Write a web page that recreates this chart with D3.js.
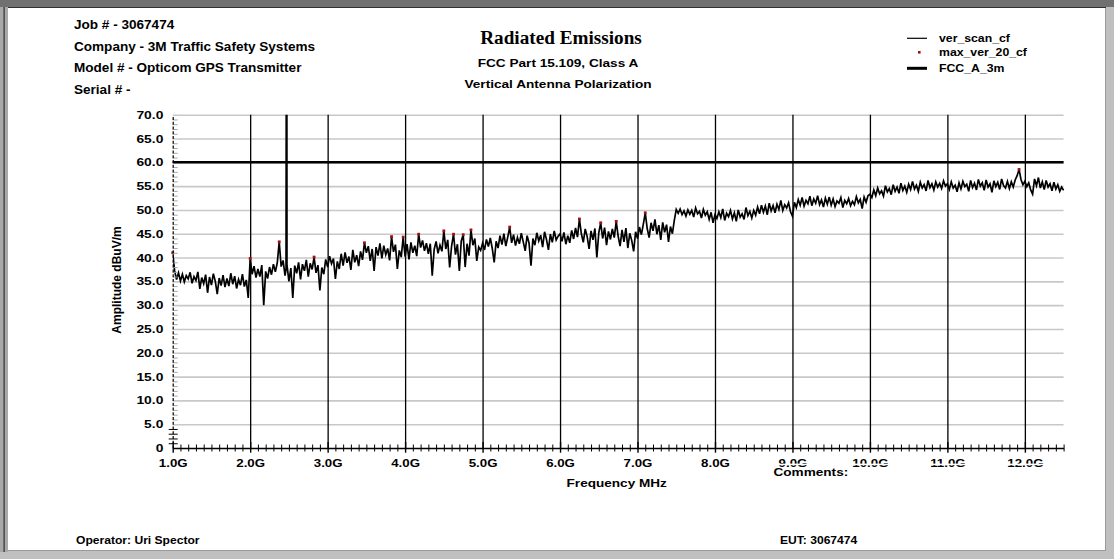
<!DOCTYPE html>
<html><head><meta charset="utf-8">
<script src="https://cdn.jsdelivr.net/npm/d3@7"></script>
<style>body{margin:0;background:#fff}svg{display:block}</style>
</head><body><svg id="c" width="1114" height="559"></svg>
<script>
// ---------- data ----------
const headerLines = ["Job # - 3067474", "Company - 3M Traffic Safety Systems", "Model # - Opticom GPS Transmitter", "Serial # -"];
const titleText = "Radiated Emissions";
const subtitleLines = ["FCC Part 15.109, Class A", "Vertical Antenna Polarization"];
const legendNames = ["ver_scan_cf", "max_ver_20_cf", "FCC_A_3m"];
const xLabel = "Frequency MHz";
const yLabel = "Amplitude dBuV/m";
const commentsText = "Comments:";
const operatorText = "Operator: Uri Spector";
const eutText = "EUT: 3067474";

const xTickMHz = [1000,2000,3000,4000,5000,6000,7000,8000,9000,10000,11000,12000];
const xTickLabels = ["1.0G","2.0G","3.0G","4.0G","5.0G","6.0G","7.0G","8.0G","9.0G","10.0G","11.0G","12.0G"];
const yTickValues = [0,5,10,15,20,25,30,35,40,45,50,55,60,65,70];
const yTickLabels = ["0","5.0","10.0","15.0","20.0","25.0","30.0","35.0","40.0","45.0","50.0","55.0","60.0","65.0","70.0"];

// ver_scan_cf: sampled every 25 MHz from 1000 MHz to 12500 MHz (dBuV/m)
const scanStartMHz = 1000, scanStepMHz = 25;
const scanValues = [
// 1.0 - 1.975 GHz
41.0,37.2,35.4,36.8,35.1,36.5,34.9,36.2,35.5,36.9,34.6,36.0,35.2,37.0,33.4,35.8,34.5,36.4,32.6,35.9,
34.2,36.6,35.0,32.3,35.7,34.1,36.3,33.8,35.6,34.0,36.7,34.4,36.1,33.5,35.4,34.2,36.5,33.9,35.3,31.5,
// 2.0 - 2.975 GHz
39.8,36.5,38.2,35.8,37.6,36.0,38.4,30.0,37.1,35.6,38.0,36.4,38.6,37.0,38.9,43.3,38.1,39.4,36.2,38.5,
35.0,37.8,31.5,38.3,36.7,39.0,35.4,38.6,37.2,39.5,36.0,38.8,37.5,40.1,36.8,38.4,33.1,37.9,36.5,39.6,
// 3.0 - 3.975 GHz
38.0,40.3,38.7,39.8,35.5,39.2,37.6,40.8,38.3,41.1,38.9,40.2,37.4,41.6,39.0,40.5,38.2,41.3,39.5,43.1,
41.0,42.4,39.3,41.8,37.2,42.2,40.4,43.0,39.8,42.5,40.6,41.9,39.4,44.4,41.2,42.7,37.6,41.5,40.1,44.3,
// 4.0 - 4.975 GHz
40.2,42.8,39.6,43.2,41.0,42.5,40.3,44.9,42.1,43.6,41.4,43.0,40.8,42.9,36.2,41.7,43.4,40.9,42.6,41.3,
45.6,41.8,43.7,37.9,42.4,44.9,40.6,42.8,37.2,43.5,44.8,38.0,42.9,40.4,45.8,42.6,44.0,39.3,42.2,41.5,
// 5.0 - 5.975 GHz
43.0,41.6,43.8,42.3,44.1,41.9,39.0,43.4,42.0,44.6,42.7,45.0,42.4,44.3,46.4,43.1,44.8,42.5,44.2,42.9,
45.1,43.3,41.4,44.6,43.0,38.3,44.0,42.6,45.2,43.5,44.7,42.2,45.4,43.8,41.6,44.9,43.2,45.6,43.7,44.5,
// 6.0 - 6.975 GHz
45.0,43.4,45.3,42.8,44.6,43.1,45.7,43.9,46.2,44.3,48.1,45.0,43.2,46.0,44.4,41.8,45.6,43.7,46.1,40.0,
45.2,47.3,44.0,46.3,42.6,45.5,43.8,46.0,44.2,47.6,44.5,42.4,45.8,43.3,46.2,42.0,45.1,43.6,41.3,45.4,
// 7.0 - 7.975 GHz
44.0,46.4,44.8,47.0,49.4,46.1,44.2,47.3,45.6,48.0,44.9,46.8,43.7,47.4,45.3,46.9,43.3,46.5,45.0,47.8,
50.1,49.3,50.2,49.0,49.8,48.7,50.0,49.1,49.9,48.5,50.4,49.2,49.7,48.3,50.1,48.9,49.6,48.0,49.5,47.3,
// 8.0 - 8.975 GHz
49.0,48.2,49.6,48.4,50.2,47.8,49.3,48.6,49.9,48.1,49.4,47.6,50.0,48.5,49.2,48.0,50.5,48.8,49.7,48.3,
49.9,48.9,50.6,49.2,51.0,49.5,50.8,49.0,51.4,49.8,50.9,49.4,51.2,50.1,52.0,49.9,51.1,50.4,51.5,49.6,
// 9.0 - 9.975 GHz
48.7,51.6,50.5,52.2,51.0,52.6,50.8,52.0,51.3,52.9,50.9,52.3,51.4,53.0,51.1,52.1,50.6,52.5,51.2,52.7,
51.0,52.3,50.7,51.9,51.4,52.6,50.5,52.0,51.3,52.4,50.9,51.8,51.1,52.8,51.5,52.2,50.3,52.7,51.6,53.0,
// 10.0 - 10.975 GHz
53.3,52.6,54.2,53.0,54.6,53.4,54.0,52.9,55.1,53.8,54.5,53.2,55.3,53.9,54.8,53.5,55.6,54.1,55.0,53.7,
55.4,54.3,56.0,54.4,55.2,53.9,55.8,54.6,55.3,54.0,56.2,54.7,55.5,54.2,55.9,54.8,55.6,54.5,56.1,55.0,
// 11.0 - 11.975 GHz
55.5,54.3,55.9,54.6,55.2,53.8,55.7,54.4,56.0,54.9,55.4,53.9,56.2,54.7,55.6,54.2,56.4,55.0,55.7,54.1,
56.3,54.8,55.5,53.7,56.1,54.9,55.8,54.3,56.5,55.1,54.6,56.0,54.5,55.9,54.8,56.3,57.2,58.5,56.4,55.3,
// 12.0 - 12.5 GHz
56.0,54.9,55.7,54.2,53.3,56.5,55.1,56.8,54.6,55.9,54.3,56.2,54.8,55.5,54.0,55.8,54.4,55.3,53.9,54.8,54.1
];
// off-scale emission near 2.47 GHz (clipped at the top of the chart)
const spikeMHz = [2463, 2467, 2473];
const spikeValues = [37.6, 95, 95];

// max_ver_20_cf peaks
const peakMHz = [1000,2000,2375,2825,3475,3825,3975,4175,4500,4625,4750,4850,5350,6250,6525,6725,7100,11925];
const peakValues = [41.0,39.8,43.3,40.1,43.1,44.4,44.3,44.9,45.6,44.9,44.8,45.8,46.4,48.1,47.3,47.6,49.4,58.5];

// FCC_A_3m limit
const limitMHz = [1000, 12500];
const limitValues = [60, 60];

// ---------- drawing ----------
const svg = d3.select("#c");
const W = 1114, H = 559;
const X0 = 172.7, X1 = 1063.6, Y0 = 448, Y1 = 114.7;

// frame
svg.append("rect").attr("x",0).attr("y",0).attr("width",W).attr("height",H).attr("fill","#c0c0c0");
svg.append("rect").attr("x",0).attr("y",0).attr("width",W).attr("height",7).attr("fill","#707070");
svg.append("rect").attr("x",0).attr("y",7).attr("width",8).attr("height",545).attr("fill","#a8a8a8");
svg.append("rect").attr("x",3.5).attr("y",7).attr("width",1.2).attr("height",545).attr("fill","#303030");
svg.append("rect").attr("x",8).attr("y",7).attr("width",1098).attr("height",1).attr("fill","#303030");
svg.append("rect").attr("x",8).attr("y",8).attr("width",1097).attr("height",542).attr("fill","#ffffff");
svg.append("rect").attr("x",1105).attr("y",8).attr("width",1).attr("height",543).attr("fill","#9a9a9a");
svg.append("rect").attr("x",8).attr("y",550).attr("width",1098).attr("height",1).attr("fill","#9a9a9a");

function txt(str, x, y, size, sx, anchor, opts) {
  opts = opts || {};
  return svg.append("text")
    .attr("transform", `translate(${x},${y}) scale(${sx},1)`)
    .attr("text-anchor", anchor)
    .attr("font-family", opts.family || "'Liberation Sans', Arial, sans-serif")
    .attr("font-weight", opts.weight || "bold")
    .attr("font-size", size)
    .attr("fill", "#000")
    .text(str);
}

// header
const headerBase = [29.3, 50.7, 72.2, 93.5];
headerLines.forEach((s,i) => txt(s, 74, headerBase[i], 12, 1.13, "start"));
txt(titleText, 561, 44.3, 19.2, 1.0, "middle", {family:"'Liberation Serif', 'Times New Roman', serif"});
txt(subtitleLines[0], 558, 66.7, 11.8, 1.155, "middle");
txt(subtitleLines[1], 558, 88.3, 11.8, 1.155, "middle");

// legend
const lg = svg.append("g");
lg.append("line").attr("x1",907).attr("x2",927).attr("y1",38.3).attr("y2",38.3).attr("stroke","#000").attr("stroke-width",1.2);
lg.append("rect").attr("x",918).attr("y",51).attr("width",2.6).attr("height",2.6).attr("fill","#a01010");
lg.append("line").attr("x1",907).attr("x2",927).attr("y1",68.3).attr("y2",68.3).attr("stroke","#000").attr("stroke-width",3);
txt(legendNames[0], 939, 41.8, 10.5, 1.17, "start");
txt(legendNames[1], 939, 55.6, 10.5, 1.17, "start");
txt(legendNames[2], 939, 71.8, 10.5, 1.17, "start");

// scales
const x = d3.scaleLinear().domain([1000, 12500]).range([X0, X1]);
const y = d3.scaleLinear().domain([0, 70]).range([Y0, Y1]);

// horizontal grid (gray)
svg.append("g").attr("transform",`translate(${X0},0)`)
  .call(d3.axisRight(y).tickValues(yTickValues.slice(1)).tickSize(X1 - X0).tickFormat(""))
  .call(g => g.select(".domain").remove())
  .call(g => g.selectAll("line").attr("stroke","#c8c8c8").attr("stroke-width",1.6));

// vertical grid (black)
svg.append("g").attr("transform",`translate(0,${Y0})`)
  .call(d3.axisBottom(x).tickValues(xTickMHz.slice(1)).tickSize(-(Y0 - Y1)).tickFormat(""))
  .call(g => g.select(".domain").remove())
  .call(g => g.selectAll("line").attr("stroke","#000").attr("stroke-width",1.3));

// clip
svg.append("clipPath").attr("id","plotclip").append("rect")
  .attr("x",X0).attr("y",Y1).attr("width",X1 - X0 + 1).attr("height",Y0 - Y1);

// limit line
const limitData = limitMHz.map((f,i) => [f, limitValues[i]]);
svg.append("path").datum(limitData)
  .attr("d", d3.line().x(d => x(d[0])).y(d => y(d[1])))
  .attr("fill","none").attr("stroke","#000").attr("stroke-width",2.6);

// scan trace
const scanData = scanValues.map((v,i) => [scanStartMHz + i*scanStepMHz, v])
  .concat(spikeMHz.map((f,i) => [f, spikeValues[i]]))
  .sort((a,b) => a[0] - b[0]);
svg.append("path").datum(scanData)
  .attr("clip-path","url(#plotclip)")
  .attr("d", d3.line().x(d => x(d[0])).y(d => y(d[1])))
  .attr("fill","none").attr("stroke","#000").attr("stroke-width",1.7).attr("stroke-linejoin","miter");

// peaks
svg.append("g").selectAll("rect").data(peakMHz.map((f,i) => [f, peakValues[i]])).join("rect")
  .attr("x", d => x(d[0]) - 1.4).attr("y", d => y(d[1]) - 1.4)
  .attr("width",2.8).attr("height",2.8).attr("fill","#a01010");

// y minor ticks
const yMinor = d3.range(1, 70).filter(v => v % 5 !== 0);
svg.append("g").attr("transform",`translate(${X0},0)`)
  .call(d3.axisRight(y).tickValues(yMinor.filter(v => v > 5)).tickSize(5).tickFormat(""))
  .call(g => g.select(".domain").remove())
  .call(g => g.selectAll("line").attr("stroke","#a8a8a8").attr("stroke-width",1));
svg.append("g").attr("transform",`translate(${X0},0)`)
  .call(d3.axisRight(y).tickValues(yMinor.filter(v => v < 5)).tickSize(5).tickFormat(""))
  .call(g => g.select(".domain").remove())
  .call(g => g.selectAll("line").attr("x1",-4).attr("stroke","#000").attr("stroke-width",1));

// y axis with labels
const ys = 1.38;
svg.append("g").attr("transform",`translate(${X0},0)`)
  .call(d3.axisLeft(y).tickValues(yTickValues).tickSize(0).tickFormat((d,i) => yTickLabels[i]))
  .call(g => g.select(".domain").attr("stroke","#000").attr("stroke-width",1.2).attr("stroke-dasharray","3,1.76"))
  .call(g => g.selectAll("text")
      .attr("x", -9.4 / ys).attr("dy","0.36em")
      .attr("transform", `scale(${ys},1)`)
      .attr("font-family","'Liberation Sans', Arial, sans-serif")
      .attr("font-weight","bold").attr("font-size",10).attr("fill","#000"));

// x minor ticks
const xMinor = d3.range(1100, 12501, 100).filter(v => v % 1000 !== 0);
svg.append("g").attr("transform",`translate(0,${Y0})`)
  .call(d3.axisBottom(x).tickValues(xMinor).tickSize(3.5).tickFormat(""))
  .call(g => g.select(".domain").remove())
  .call(g => g.selectAll("line").attr("y1",-3.5).attr("stroke","#000").attr("stroke-width",1));

// x axis with labels
const xs = 1.33;
svg.append("g").attr("transform",`translate(0,${Y0})`)
  .call(d3.axisBottom(x).tickValues(xTickMHz).tickSize(4.7).tickSizeOuter(0).tickFormat((d,i) => xTickLabels[i]))
  .call(g => g.select(".domain").attr("stroke","#000").attr("stroke-width",1.6))
  .call(g => g.selectAll("line").attr("y1",-6).attr("stroke","#000").attr("stroke-width",1.4))
  .call(g => g.selectAll("text")
      .attr("y", 18.6).attr("dy","0")
      .attr("transform", `scale(${xs},1)`)
      .attr("font-family","'Liberation Sans', Arial, sans-serif")
      .attr("font-weight","bold").attr("font-size",10).attr("fill","#000"));

// comments box partially covering the right-hand labels
svg.append("rect").attr("x",770).attr("y",463.6).attr("width",X1 - 770).attr("height",1.6).attr("fill","#fff");

// axis titles
txt(xLabel, 616.7, 486.7, 10.2, 1.33, "middle");
svg.append("text")
  .attr("transform","translate(121,280) rotate(-90)")
  .attr("text-anchor","middle")
  .attr("font-family","'Liberation Sans', Arial, sans-serif")
  .attr("font-weight","bold").attr("font-size",12).attr("fill","#000")
  .text(yLabel);

txt(commentsText, 773.5, 476.3, 10, 1.36, "start");
txt(operatorText, 76, 543.5, 11, 1.1, "start");
txt(eutText, 780, 543.5, 11, 1.1, "start");
</script>
</body></html>
